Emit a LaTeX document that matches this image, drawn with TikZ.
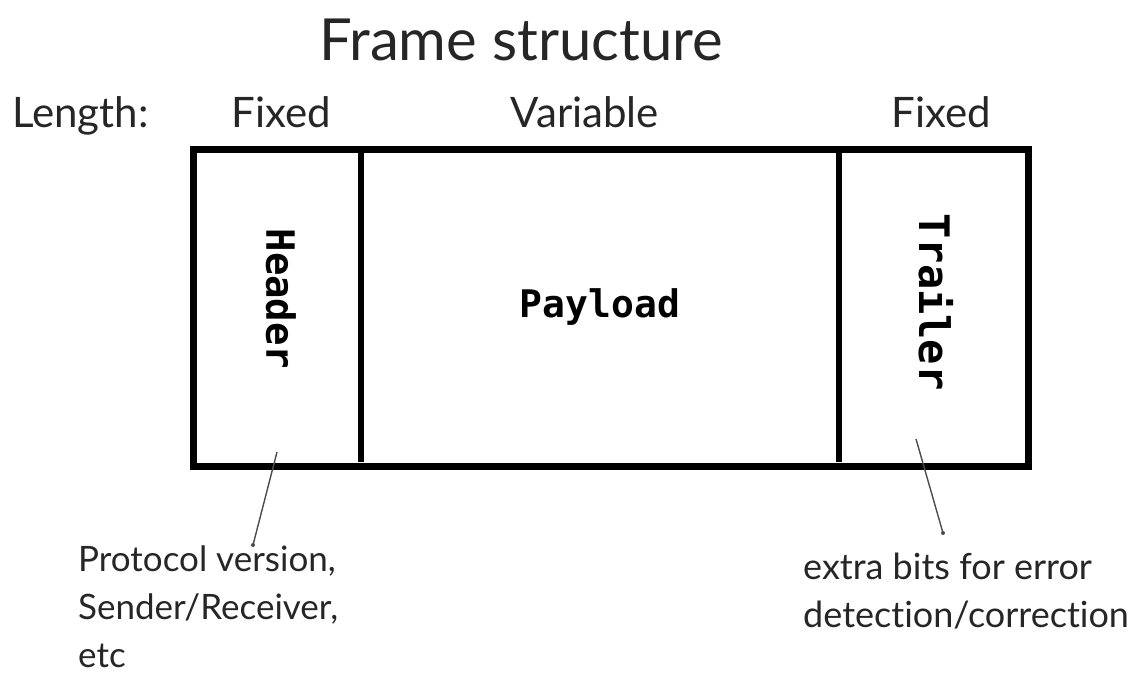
\documentclass[tikz,border=0pt]{standalone}
\usepackage{fontspec}
\setmainfont{Lato}[Ligatures=NoCommon]
\newfontfamily\fieldfont{DejaVu Sans Mono}

\begin{document}
\begin{tikzpicture}[x=1pt,y=-1pt,
	hand/.style={font=\fontsize{42}{48}\selectfont, text=black!85, inner sep=0pt},
	note/.style={font=\fontsize{35}{48}\selectfont, align=left, text=black!85, inner sep=0pt},
	field/.style={font=\fieldfont\bfseries\fontsize{38}{40}\selectfont, inner sep=0pt},
	pin/.style={draw=black!70, line width=1.4pt}]
	\useasboundingbox (0,0) rectangle (1140,677);
	\node[font=\fontsize{58}{64}\selectfont, text=black!85, anchor=base] (title) at (521,60) {Frame structure};
	\node[hand, anchor=base west] (length) at (12,127) {Length:};
	\node[hand, anchor=base] (fixl) at (281,127) {Fixed};
	\node[hand, anchor=base] (var) at (585,127) {Variable};
	\node[hand, anchor=base] (fixr) at (941,127) {Fixed};
	% frame
	\draw[line width=7pt] (193,149) rectangle (1028,466);
	\coordinate (d1t) at (361,149);
	\coordinate (d1b) at (361,462);
	\coordinate (d2t) at (839,149);
	\coordinate (d2b) at (839,462);
	\draw[line width=5.5pt] (d1t) -- (d1b);
	\draw[line width=5.5pt] (d2t) -- (d2b);
	\node[field, rotate=-90, font=\fieldfont\bfseries\fontsize{39}{40}\selectfont] (header) at (281,299) {Header};
	\node[field] (payload) at (600,307) {Payload};
	\node[field, rotate=-90, font=\fieldfont\bfseries\fontsize{42}{44}\selectfont] (trailer) at (936,302) {Trailer};
	% notes
	\node[note, anchor=north west] (hdrnote) at (78,546) {Protocol version,\\Sender/Receiver,\\etc};
	\node[note, anchor=north west, font=\fontsize{36}{48}\selectfont] (trlnote) at (803,553) {extra bits for error\\detection/correction};
	\coordinate (hdrtip) at (277,452);
	\coordinate (hdrend) at (253,545);
	\coordinate (trltip) at (916,439);
	\coordinate (trlend) at (943,533);
	\draw[pin] (hdrtip) -- (hdrend);
	\draw[pin] (trltip) -- (trlend);
	\fill[black!70] (hdrend) circle (2);
	\fill[black!70] (trlend) circle (2);
\end{tikzpicture}
\end{document}
